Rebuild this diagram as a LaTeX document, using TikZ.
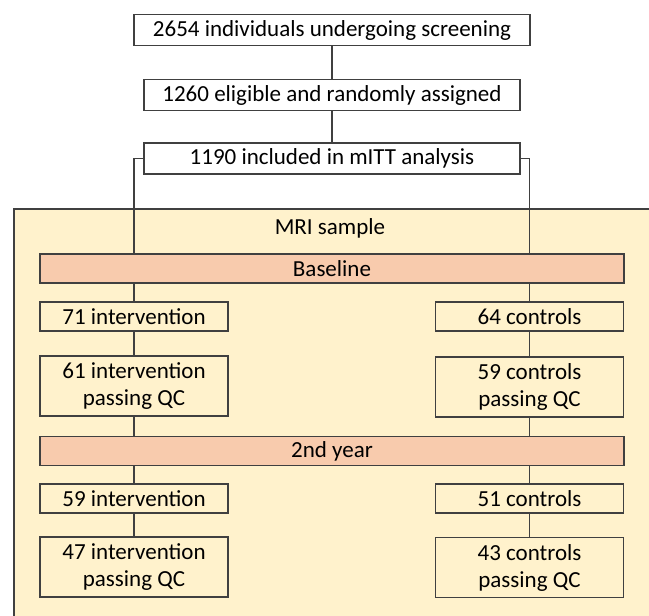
\documentclass[tikz,border=0pt]{standalone}
\usepackage{fontspec}
\setmainfont{Carlito}
\definecolor{linegray}{HTML}{404040}
\definecolor{mriyellow}{HTML}{FFF2CC}
\definecolor{barorange}{HTML}{F8CBAD}

\begin{document}
\begin{tikzpicture}
  [x=1pt,y=-1pt,line width=1.1pt,
   every node/.style={font=\fontsize{23}{27}\selectfont,inner sep=0pt,align=center},
   flowbox/.style={draw=linegray,fill=white,minimum height=31pt},
   armbox/.style={draw=linegray,fill=mriyellow,minimum width=188pt,minimum height=29pt},
   stagebar/.style={draw=linegray,fill=barorange,minimum width=584pt,minimum height=29pt}]
  \useasboundingbox (0,0) rectangle (649,616);
  \clip (0,0) rectangle (649,616);
  % MRI sample region
  \draw[linegray,fill=mriyellow] (14,209) rectangle (680,650);
  \node (mri) at (330,228) {MRI sample};
  % trial flow
  \node[flowbox,minimum width=396pt] (scr) at (332,30) {2654 individuals undergoing screening};
  \node[flowbox,minimum width=376pt] (elig) at (332,95) {1260 eligible and randomly assigned};
  \node[flowbox,minimum width=376pt] (itt) at (332,158.5) {1190 included in mITT analysis};
  \node[stagebar] (base) at (332,268.5) {Baseline};
  \node[stagebar] (year) at (332,451) {2nd year};
  \node[armbox] (int1) at (134,316.5) {71 intervention};
  \node[armbox,minimum height=60pt] (int2) at (134,386) {61 intervention\\passing QC};
  \node[armbox] (int3) at (134,498.5) {59 intervention};
  \node[armbox,minimum height=60pt] (int4) at (134,567) {47 intervention\\passing QC};
  \node[armbox] (con1) at (529.5,316.5) {64 controls};
  \node[armbox,minimum height=60pt] (con2) at (529.5,387) {59 controls\\passing QC};
  \node[armbox] (con3) at (529.5,498.5) {51 controls};
  \node[armbox,minimum height=60pt] (con4) at (529.5,567.5) {43 controls\\passing QC};
  \foreach \from/\to in {scr/elig,elig/itt,int1/int2,int3/int4,con1/con2,con3/con4}
    \draw[linegray] (\from.south) -- (\to.north);
  \foreach \bar/\arm in {base/int1,base/con1,year/int3,year/con3}
    \draw[linegray] (\bar.south -| \arm.north) -- (\arm.north);
  \foreach \arm/\bar in {int2/year,con2/year}
    \draw[linegray] (\arm.south) -- (\arm.south |- \bar.north);
  \draw[linegray] (itt.west) -| (base.north -| int1.north);
  \draw[linegray] (itt.east) -| (base.north -| con1.north);
\end{tikzpicture}
\end{document}
